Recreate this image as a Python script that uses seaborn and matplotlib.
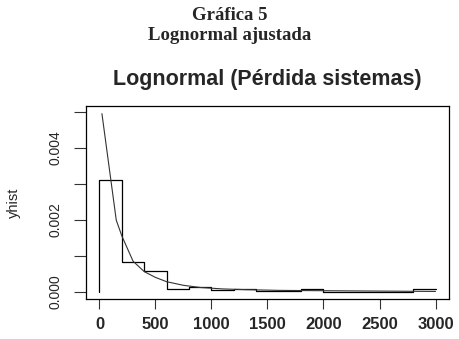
import numpy as np
import pandas as pd
import matplotlib
matplotlib.use("Agg")
import matplotlib.pyplot as plt
import seaborn as sns

# histogram (density) steps, bin width 200
xhist = [0, 200, 400, 600, 800, 1000, 1200, 1400, 1600, 1800, 2000, 2200, 2400, 2600, 2800, 3000]
yhist = [0, 0.00310, 0.00084, 0.00057, 0.00007, 0.00014, 0.00004, 0.00007, 0.00001, 0.00001,
         0.00007, 0.0, 0.0, 0.0, 0.0, 0.00007]

# fitted lognormal density
curve_x = [22, 150, 200, 300, 400, 500, 600, 750, 900, 1100, 1300, 1600, 2000, 2500, 3000]
curve_y = [0.00495, 0.00199, 0.00155, 0.00085, 0.00056, 0.00040, 0.00028, 0.00018, 0.00012,
           0.00008, 0.00006, 0.00004, 0.00003, 0.00002, 0.00001]

yticks = [0, 0.001, 0.002, 0.003, 0.004, 0.005]
ytick_labels = ["0.000", "", "0.002", "", "0.004", ""]
xticks = [0, 500, 1000, 1500, 2000, 2500, 3000]

sns.set_theme(style="ticks")
plt.rcParams["font.family"] = ["Liberation Sans", "DejaVu Sans"]

hist_df = pd.DataFrame({"x": xhist, "yhist": yhist})
curve_df = pd.DataFrame({"x": curve_x, "y": curve_y})

fig = plt.figure(figsize=(4.6, 3.39), dpi=100)
ax = fig.add_axes([0.187, 0.118, 0.789, 0.569])

sns.lineplot(data=hist_df, x="x", y="yhist", ax=ax, color="black", linewidth=0.9,
             drawstyle="steps-pre", sort=False, estimator=None)
sns.lineplot(data=curve_df, x="x", y="y", ax=ax, color="#333333", linewidth=0.8,
             sort=False, estimator=None)

ax.set_xlim(-120, 3120)
ax.set_ylim(-0.0002, 0.00516)
ax.set_xticks(xticks)
ax.set_xticklabels([str(v) for v in xticks], fontsize=12, fontweight="bold")
ax.set_yticks(yticks)
ax.set_yticklabels(ytick_labels, fontsize=10, rotation=90, va="center")
ax.tick_params(axis="x", direction="out", length=7, width=0.8, color="#333333", pad=6)
ax.tick_params(axis="y", direction="out", length=9, width=0.8, color="#333333", pad=8)
ax.set_xlabel("")
ax.set_ylabel("yhist", fontsize=10.5)
ax.yaxis.set_label_coords(-0.18, 0.5)
for s in ax.spines.values():
    s.set_visible(True)
    s.set_linewidth(0.9)
    s.set_color("black")

ax.set_title("Lognormal (Pérdida sistemas)", fontsize=15.5, fontweight="bold", pad=15)

fig.text(0.5, 0.94, "Gráfica 5", ha="center", va="baseline",
         family="Liberation Serif", fontweight="bold", fontsize=13.5)
fig.text(0.5, 0.882, "Lognormal ajustada", ha="center", va="baseline",
         family="Liberation Serif", fontweight="bold", fontsize=13.5)

fig.savefig("out.png", dpi=100)
